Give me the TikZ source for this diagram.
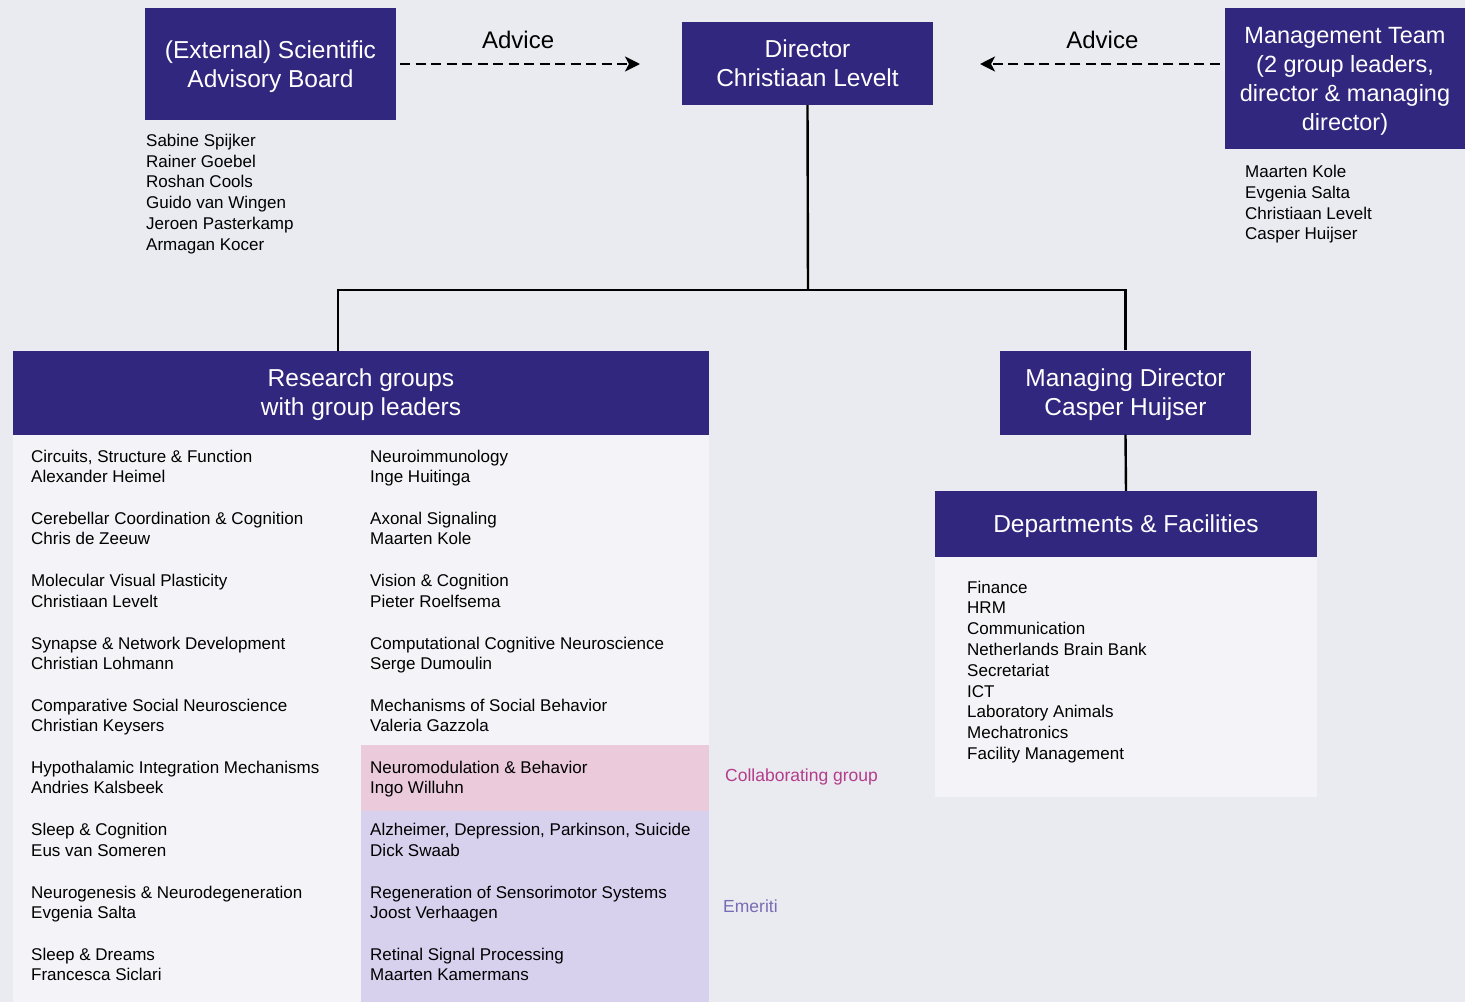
\documentclass[tikz,border=0pt]{standalone}
\usepackage{fontspec}
\setmainfont{Liberation Sans}
\usetikzlibrary{arrows.meta,positioning}
\definecolor{pagebg}{HTML}{EAEBF0}
\definecolor{indigo}{HTML}{31277F}
\definecolor{panel}{HTML}{F4F3F7}
\definecolor{rose}{HTML}{EACADB}
\definecolor{lilac}{HTML}{D7D1EE}
\definecolor{roseink}{HTML}{B43C8A}
\definecolor{lilacink}{HTML}{7A6BB5}
\tikzset{headbox/.style={fill=indigo,text=white,inner sep=0pt,align=center,text depth=0pt,font=\fontsize{24.5}{29}\selectfont},plainlist/.style={inner sep=0pt,align=left,anchor=west,font=\fontsize{17}{20.8}\selectfont,execute at begin node=\strut,execute at end node=\strut},orgline/.style={draw=black,line width=2.4pt},advarrow/.style={draw=black,line width=2.6pt,dash pattern=on 10pt off 5.5pt,-{Stealth[length=15pt,width=15pt,inset=4pt]}},advlabel/.style={font=\fontsize{24}{29}\selectfont,inner sep=0pt},sidenote/.style={font=\fontsize{17.5}{20}\selectfont,inner sep=0pt,anchor=west}}

\begin{document}
\begin{tikzpicture}[x=1pt,y=-1pt]
\useasboundingbox (0,0) rectangle (1465,1002);
\fill[pagebg] (0,0) rectangle (1465,1002);
\node[headbox,minimum width=251pt,minimum height=112pt] (sab) at (270.5,64) {(External) Scientific\\Advisory Board};
\node[headbox,minimum width=251pt,minimum height=83pt] (dir) at (807.5,63.5) {Director\\Christiaan Levelt};
\node[headbox,minimum width=240pt,minimum height=141pt,font=\fontsize{23.5}{29}\selectfont] (mt) at (1345,78.5) {Management Team\\(2 group leaders,\\director \& managing\\director)};
\coordinate (advL) at (640,64);
\coordinate (advR) at (980,64);
\draw[advarrow,shorten <=4pt] (sab.east |- advL) -- node[advlabel,above=14pt] {Advice} (advL);
\draw[advarrow,shorten <=5pt] (mt.west |- advR) -- node[advlabel,above=14pt] {Advice} (advR);
\node[plainlist] (sabnames) at (146,195.2) {Sabine Spijker\\Rainer Goebel\\Roshan Cools\\Guido van Wingen\\Jeroen Pasterkamp\\Armagan Kocer};
\node[plainlist] (mtnames) at (1245,205.7) {Maarten Kole\\Evgenia Salta\\Christiaan Levelt\\Casper Huijser};
\fill[panel] (13,434) rectangle (709,1002);
\fill[rose] (361,745) rectangle (709,811);
\fill[lilac] (361,811) rectangle (709,1002);
\node[headbox,minimum width=696pt,minimum height=84pt] (rg) at (361,392.5) {Research groups\\with group leaders};
\node[headbox,minimum width=251pt,minimum height=84pt] (md) at (1125.5,392.5) {Managing Director\\Casper Huijser};
\fill[panel] (935,557) rectangle (1317,797);
\node[headbox,minimum width=382pt,minimum height=66pt] (df) at (1126,524) {Departments \& Facilities};
\coordinate (split) at (808,290);
\coordinate (rgtop) at (338,351);
\draw[orgline] (dir.south) -- (split);
\draw[orgline] (split) -| (rgtop);
\draw[orgline] (split) -| (md.north);
\draw[orgline] (md.south) -- (df.north);
\node[plainlist] (l1) at (31,469.5) {Circuits, Structure \& Function\\Alexander Heimel};
\node[plainlist] (l2) at (31,531.5) {Cerebellar Coordination \& Cognition\\Chris de Zeeuw};
\node[plainlist] (l3) at (31,594) {Molecular Visual Plasticity\\Christiaan Levelt};
\node[plainlist] (l4) at (31,656.5) {Synapse \& Network Development\\Christian Lohmann};
\node[plainlist] (l5) at (31,718.5) {Comparative Social Neuroscience\\Christian Keysers};
\node[plainlist] (l6) at (31,780.5) {Hypothalamic Integration Mechanisms\\Andries Kalsbeek};
\node[plainlist] (l7) at (31,843) {Sleep \& Cognition\\Eus van Someren};
\node[plainlist] (l8) at (31,905.5) {Neurogenesis \& Neurodegeneration\\Evgenia Salta};
\node[plainlist] (l9) at (31,967.5) {Sleep \& Dreams\\Francesca Siclari};
\node[plainlist] (r1) at (370,469.5) {Neuroimmunology\\Inge Huitinga};
\node[plainlist] (r2) at (370,531.5) {Axonal Signaling\\Maarten Kole};
\node[plainlist] (r3) at (370,594) {Vision \& Cognition\\Pieter Roelfsema};
\node[plainlist] (r4) at (370,656.5) {Computational Cognitive Neuroscience\\Serge Dumoulin};
\node[plainlist] (r5) at (370,718.5) {Mechanisms of Social Behavior\\Valeria Gazzola};
\node[plainlist] (r6) at (370,780.5) {Neuromodulation \& Behavior\\Ingo Willuhn};
\node[plainlist] (r7) at (370,843) {Alzheimer, Depression, Parkinson, Suicide\\Dick Swaab};
\node[plainlist] (r8) at (370,905.5) {Regeneration of Sensorimotor Systems\\Joost Verhaagen};
\node[plainlist] (r9) at (370,967.5) {Retinal Signal Processing\\Maarten Kamermans};
\node[sidenote,text=roseink] (collab) at (725,776.5) {Collaborating group};
\node[sidenote,text=lilacink] (emer) at (723,906.5) {Emeriti};
\node[plainlist] (dfnames) at (967,673.2) {Finance\\HRM\\Communication\\Netherlands Brain Bank\\Secretariat\\ICT\\Laboratory Animals\\Mechatronics\\Facility Management};
\end{tikzpicture}
\end{document}
